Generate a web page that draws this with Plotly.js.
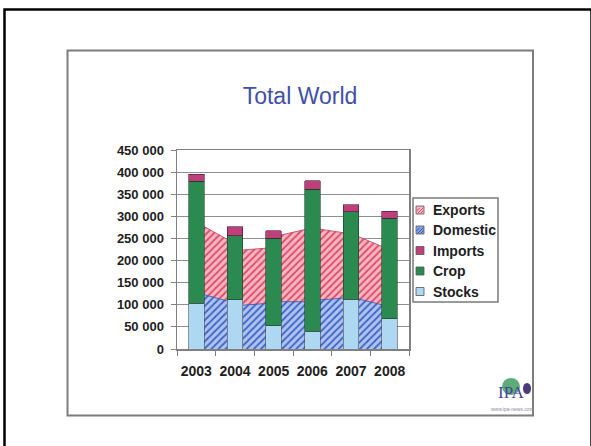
<!DOCTYPE html>
<html>
<head>
<meta charset="utf-8">
<script src="https://cdn.plot.ly/plotly-3.0.1.min.js"></script>
<style>
  html, body { margin: 0; padding: 0; background: #ffffff; }
  #chart { width: 591px; height: 446px; }
</style>
</head>
<body>
<div id="chart"></div>
<script>
// ---------------- data ----------------
const years = ['2003', '2004', '2005', '2006', '2007', '2008'];
const stocks  = [104000, 111000,  53000,  40000, 113000,  68000];
const crop    = [275000, 145000, 197000, 321000, 197000, 228000];
const imports = [ 16000,  21000,  17000,  19000,  16000,  16000];
// area series, read on both sides of each year's column (left side of 2003 / right side of 2008 not drawn)
const domestic = [123000, 109000,  99000, 103000, 107000, 107000, 111000, 115000, 113000, 100000];
const exportsV = [154000, 139000, 125000, 125000, 151000, 163000, 160000, 148000, 141000, 132000];
const yTickVals = [0, 50000, 100000, 150000, 200000, 250000, 300000, 350000, 400000, 450000];
const yTickText = ['0', '50 000', '100 000', '150 000', '200 000', '250 000', '300 000', '350 000', '400 000', '450 000'];
const legendNames = ['Exports', 'Domestic', 'Imports', 'Crop', 'Stocks'];
const chartTitle = 'Total World';

// ---------------- styling / geometry ----------------
const FONT = 'Liberation Sans, Arial, Helvetica, sans-serif';
const C = {
  stocks: '#aed8f2', crop: '#2b8a4f', imports: '#bf3f7a',
  expBg: '#f6b6c2', expFg: '#e04a68', domBg: '#aec3f0', domFg: '#3d63c6',
  axis: '#808080', grid: '#8f8f8f', text: '#1e1e1e'
};
const BAR_W = 0.4;
// area sample positions: both edges of each column, in category index units
const areaX = years.flatMap((y, i) => [i - BAR_W / 2, i + BAR_W / 2]).slice(1, -1);

// plot area in pixels
const PL = 177, PR = 409, PT = 150, PB = 349;
const px2x = p => (p - PL) / (PR - PL);
const px2y = p => (PB - p) / (PB - PT);

const traces = [
  { type: 'scatter', x: areaX, y: domestic, xaxis: 'x', yaxis: 'y', name: 'Domestic',
    stackgroup: 'area', mode: 'lines', line: { color: '#2c4ca6', width: 0.8 },
    fillcolor: C.domBg,
    fillpattern: { shape: '/', bgcolor: C.domBg, fgcolor: C.domFg, size: 5, solidity: 0.35 },
    showlegend: false, hoverinfo: 'skip' },
  { type: 'scatter', x: areaX, y: exportsV, xaxis: 'x', yaxis: 'y', name: 'Exports',
    stackgroup: 'area', mode: 'lines', line: { color: '#b8405a', width: 0.8 },
    fillcolor: C.expBg,
    fillpattern: { shape: '/', bgcolor: C.expBg, fgcolor: C.expFg, size: 5, solidity: 0.35 },
    showlegend: false, hoverinfo: 'skip' },
  { type: 'bar', x: years, y: stocks, xaxis: 'x2', yaxis: 'y', name: 'Stocks', width: BAR_W,
    marker: { color: C.stocks, line: { color: '#4a4a4a', width: 0.6 } }, showlegend: false },
  { type: 'bar', x: years, y: crop, xaxis: 'x2', yaxis: 'y', name: 'Crop', width: BAR_W,
    marker: { color: C.crop, line: { color: '#1f3a28', width: 0.6 } }, showlegend: false },
  { type: 'bar', x: years, y: imports, xaxis: 'x2', yaxis: 'y', name: 'Imports', width: BAR_W,
    marker: { color: C.imports, line: { color: '#3a1a28', width: 0.6 } }, showlegend: false }
];

// ---------------- custom legend + frames ----------------
const legendColors = [C.expBg, '#86a3e2', C.imports, C.crop, C.stocks];
const legendY = [210, 230, 250.5, 271, 291.5];
const shapes = [
  // outer slide border
  { type: 'rect', xref: 'paper', yref: 'paper', x0: px2x(4.5), x1: px2x(591.5), y0: px2y(9.5), y1: px2y(452),
    line: { color: '#000000', width: 2.5 }, fillcolor: 'rgba(0,0,0,0)', layer: 'below' },
  // inner chart frame
  { type: 'rect', xref: 'paper', yref: 'paper', x0: px2x(67.5), x1: px2x(533), y0: px2y(50.5), y1: px2y(415.5),
    line: { color: '#7d7d7d', width: 2 }, fillcolor: 'rgba(0,0,0,0)', layer: 'below' },
  // legend box
  { type: 'rect', xref: 'paper', yref: 'paper', x0: px2x(413), x1: px2x(498), y0: px2y(198), y1: px2y(302),
    line: { color: '#7a7a7a', width: 1.5 }, fillcolor: '#ffffff', layer: 'above' }
];
const annotations = [];
legendNames.forEach((nm, i) => {
  const cy = legendY[i];
  shapes.push({ type: 'rect', xref: 'paper', yref: 'paper',
    x0: px2x(416), x1: px2x(424), y0: px2y(cy - 4), y1: px2y(cy + 4),
    line: { color: '#555555', width: 0.8 }, fillcolor: legendColors[i], layer: 'above' });
  if (i < 2) {
    // tiny hatch marks in the patterned legend keys
    const fg = i === 0 ? C.expFg : '#3555b8';
    [[416.5, cy + 1, 419.5, cy - 2], [417.5, cy + 3.5, 423.5, cy - 2.5], [420.5, cy + 3.5, 423.5, cy + 0.5]].forEach(s => {
      shapes.push({ type: 'line', xref: 'paper', yref: 'paper',
        x0: px2x(s[0]), y0: px2y(s[1]), x1: px2x(s[2]), y1: px2y(s[3]),
        line: { color: fg, width: 1 }, layer: 'above' });
    });
  }
  annotations.push({ xref: 'paper', yref: 'paper', x: px2x(430.5), y: px2y(cy), xanchor: 'left', yanchor: 'middle',
    text: nm, showarrow: false, font: { family: FONT, size: 14, color: C.text, weight: 'bold' } });
});

// small publisher logo in the bottom-right corner
shapes.push({ type: 'circle', xref: 'paper', yref: 'paper', x0: px2x(502), x1: px2x(520), y0: px2y(378), y1: px2y(395),
  line: { width: 0 }, fillcolor: '#3f9e63', opacity: 0.85, layer: 'above' });
shapes.push({ type: 'circle', xref: 'paper', yref: 'paper', x0: px2x(523), x1: px2x(531), y0: px2y(383), y1: px2y(394),
  line: { width: 0 }, fillcolor: '#4a3a7a', layer: 'above' });
annotations.push({ xref: 'paper', yref: 'paper', x: px2x(511), y: px2y(392), xanchor: 'center', yanchor: 'middle',
  text: 'IPA', showarrow: false, font: { family: 'Liberation Serif, Times New Roman, serif', size: 17, color: '#4b3d9e' } });
annotations.push({ xref: 'paper', yref: 'paper', x: px2x(512), y: px2y(408.5), xanchor: 'center', yanchor: 'middle',
  text: 'www.ipa-news.com', showarrow: false, font: { family: FONT, size: 5, color: '#8a8aa8' } });

const layout = {
  width: 591, height: 446,
  margin: { l: PL, r: 591 - PR, t: PT, b: 446 - PB, pad: 0 },
  paper_bgcolor: '#ffffff', plot_bgcolor: '#ffffff',
  showlegend: false,
  barmode: 'stack',
  title: { text: chartTitle, xref: 'container', yref: 'container', x: 300 / 591, xanchor: 'center',
           y: 1 - 96 / 446, yanchor: 'middle',
           font: { family: FONT, size: 23, color: '#3f50a8' } },
  xaxis: { range: [-0.5, 5.5], showticklabels: false, showgrid: false, zeroline: false, showline: false,
           ticks: '', fixedrange: true },
  xaxis2: { type: 'category', overlaying: 'x', anchor: 'y', side: 'bottom', range: [-0.5, 5.5],
            tickson: 'boundaries', ticks: 'outside', ticklen: 5, tickwidth: 1, tickcolor: C.axis, tickangle: 0,
            showline: true, linecolor: C.axis, linewidth: 1.5, mirror: true, showgrid: false, zeroline: false,
            tickfont: { family: FONT, size: 14, color: C.text, weight: 'bold' }, ticklabelstandoff: 9 },
  yaxis: { range: [0, 450000], tickmode: 'array', tickvals: yTickVals, ticktext: yTickText,
           ticks: 'outside', ticklen: 5, tickwidth: 1, tickcolor: C.axis,
           showline: true, linecolor: C.axis, linewidth: 1.5, mirror: true,
           showgrid: true, gridcolor: C.grid, gridwidth: 1, zeroline: false,
           tickfont: { family: FONT, size: 13, color: C.text, weight: 'bold' }, ticklabelstandoff: 4 },
  shapes: shapes,
  annotations: annotations
};

Plotly.newPlot('chart', traces, layout, { staticPlot: true, displayModeBar: false });
</script>
</body>
</html>
